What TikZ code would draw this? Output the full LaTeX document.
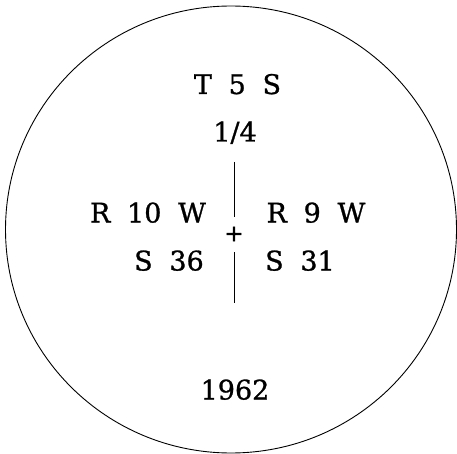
\documentclass[tikz,border=0pt]{standalone}
\usepackage{fontspec}
\newfontfamily\lblfont{DejaVu Serif}[FakeBold=1]
\newcommand{\lblgap}{\hspace{0.62em}}
\begin{document}
\begin{tikzpicture}[x=1pt,y=-1pt]
\tikzset{lbl/.style={anchor=base,inner sep=0pt,font=\lblfont\fontsize{27}{32}\selectfont}}
\useasboundingbox (0,0) rectangle (457,454);
\draw[line width=0.9pt] (231,229.5) ellipse [x radius=225.5,y radius=223.5];
\node[lbl] (twp) at (237.5,94) {T\lblgap 5\lblgap S};
\node[lbl] (sec) at (235,141.5) {1/4};
\node[lbl] (rngw) at (148,222.5) {R\lblgap 10\lblgap W};
\node[lbl] (rnge) at (316,222.5) {R\lblgap 9\lblgap W};
\node[lbl] (secw) at (169,270.5) {S\lblgap 36};
\node[lbl] (sece) at (300,270.5) {S\lblgap 31};
\node[lbl] (year) at (235,399.5) {1962};
\node[inner sep=0pt,font=\lblfont\fontsize{23}{27}\selectfont] (cnr) at (234,234) {+};
\coordinate (nt) at (234.5,162);
\coordinate (nb) at (234.5,217);
\coordinate (st) at (234.5,252);
\coordinate (sb) at (234.5,303);
\draw[line width=0.7pt] (nt) -- (nb);
\draw[line width=0.7pt] (st) -- (sb);
\end{tikzpicture}
\end{document}
